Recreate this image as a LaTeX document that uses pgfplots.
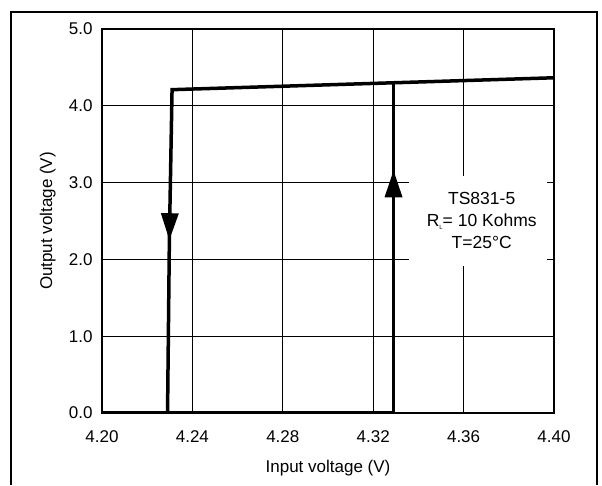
\documentclass[border=0pt]{standalone}
\usepackage{fontspec}
\setmainfont{Liberation Sans}
\usepackage{pgfplots}
\pgfplotsset{compat=1.18}
\usetikzlibrary{arrows.meta}
\begin{document}
\begin{tikzpicture}[x=1pt,y=1pt]
\useasboundingbox (0,0) rectangle (602,485);
% outer frame, open at the bottom
\draw[line width=2pt] (11,0) -- (11,473) -- (597,473) -- (597,0);
\begin{axis}[
  at={(102pt,72pt)}, anchor=south west,
  scale only axis, width=452pt, height=384pt,
  xmin=4.2, xmax=4.4, ymin=0, ymax=5,
  xtick={4.20,4.24,4.36,4.40},
  extra x ticks={4.28,4.32},
  extra x tick style={grid=major, major grid style={line width=0.8pt, black}},
  ytick={0,1,2,3,4,5},
  grid=major,
  major grid style={line width=1.3pt, black},
  major tick length=0pt,
  axis line style={line width=2pt},
  /pgf/number format/assume math mode=true,
  tick label style={font=\fontsize{17}{20}\selectfont},
  x tick label style={/pgf/number format/.cd, fixed, fixed zerofill, precision=2, /tikz/.cd, yshift=-14pt},
  y tick label style={/pgf/number format/.cd, fixed, fixed zerofill, precision=1, /tikz/.cd, xshift=-6pt},
  xlabel={Input voltage (V)},
  ylabel={Output voltage (V)},
  every axis x label/.style={at={(axis description cs:0.5,-0.143)}, anchor=center, font=\fontsize{17}{20}\selectfont},
  every axis y label/.style={at={(axis description cs:-0.12,0.5)}, rotate=90, anchor=center, font=\fontsize{17}{20}\selectfont},
]
% white label box over the grid
\fill[white] (axis cs:4.336,1.92) rectangle (axis cs:4.397,3.08);
\node[align=center, font=\fontsize{17.5}{22}\selectfont] at (axis cs:4.368,2.51)
  {TS831-5\\R\raisebox{-0.4ex}{\fontsize{6}{7}\selectfont L}= 10 Kohms\\T=25°C};

% rising branch
\addplot[black, line width=3.5pt, line join=miter, -{Triangle[length=27pt,width=17pt]}]
  coordinates {(4.2,0) (4.329,0) (4.329,3.16)};
\addplot[black, line width=3.5pt] coordinates {(4.329,2.9) (4.329,4.30)};
% falling branch
\addplot[black, line width=3.5pt, line join=miter, -{Triangle[length=27pt,width=17pt]}]
  coordinates {(4.40,4.365) (4.231,4.21) (4.2298,2.25)};
\addplot[black, line width=3.5pt] coordinates {(4.2299,2.5) (4.229,0)};
\end{axis}
\end{tikzpicture}
\end{document}
